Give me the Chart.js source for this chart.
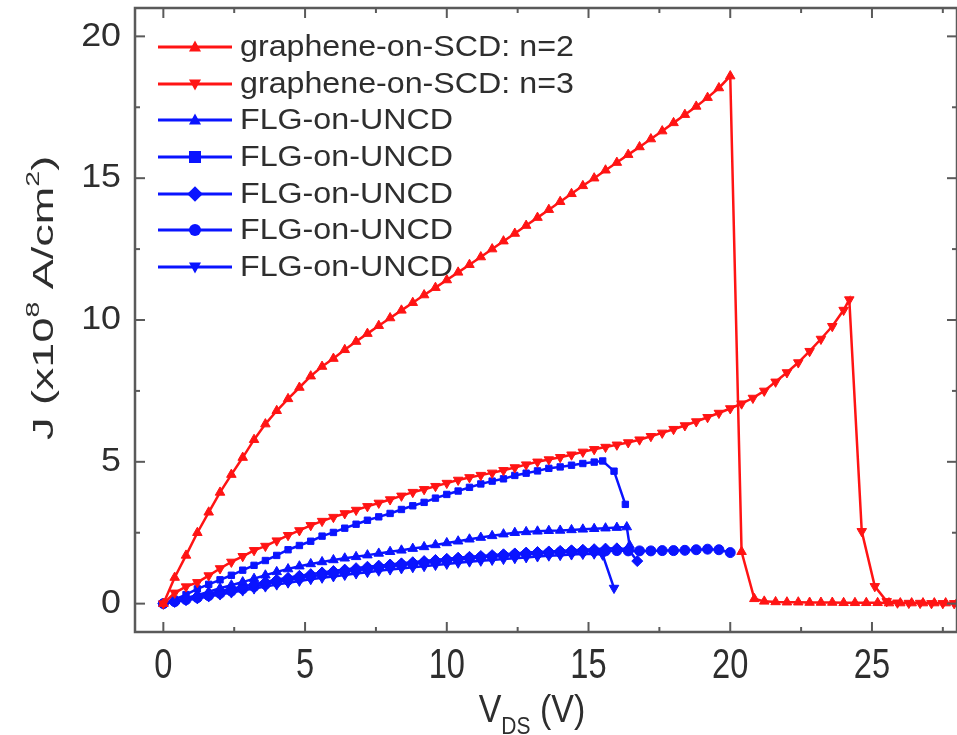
<!DOCTYPE html>
<html>
<head>
<meta charset="utf-8">
<script src="https://cdn.jsdelivr.net/npm/chart.js@4.4.0/dist/chart.umd.min.js"></script>
<style>
  html, body { margin: 0; padding: 0; background: #fff; }
  #wrap { width: 957px; height: 735px; }
</style>
</head>
<body>
<div id="wrap"><canvas id="c" width="957" height="735"></canvas></div>
<script>
// common V_DS grid (V), step of the measurement
const vds = [
  0, 0.4, 0.8, 1.2, 1.6, 2, 2.4, 2.8, 3.2, 3.6,
  4, 4.4, 4.8, 5.2, 5.6, 6, 6.4, 6.8, 7.2, 7.6,
  8, 8.4, 8.8, 9.2, 9.6, 10, 10.4, 10.8, 11.2, 11.6,
  12, 12.4, 12.8, 13.2, 13.6, 14, 14.4, 14.8, 15.2, 15.6,
  16, 16.4, 16.8, 17.2, 17.6, 18, 18.4, 18.8, 19.2, 19.6,
  20, 20.4, 20.8, 21.2, 21.6, 22, 22.4, 22.8, 23.2, 23.6,
  24
];

// J (x10^8 A/cm^2) along the grid, then the breakdown tail
const jSCD2 = [
  0, 0.92, 1.7, 2.5, 3.22, 3.92, 4.55, 5.15, 5.78, 6.33,
  6.8, 7.22, 7.62, 8.02, 8.36, 8.64, 8.95, 9.24, 9.52, 9.8,
  10.07, 10.34, 10.61, 10.88, 11.14, 11.41, 11.68, 11.95, 12.22, 12.5,
  12.78, 13.05, 13.33, 13.61, 13.89, 14.17, 14.45, 14.73, 15.0, 15.28,
  15.55, 15.83, 16.1, 16.38, 16.66, 16.95, 17.24, 17.53, 17.84, 18.18,
  18.6
];
const vSCD2Tail = [20.4, 20.85, 21.2, 21.6, 22, 22.4, 22.8, 23.2, 23.6, 24, 24.4, 24.8, 25.2, 25.6, 26, 26.4, 26.8, 27.2, 27.6, 28];
const jSCD2Tail = [1.83, 0.17, 0.08, 0.06, 0.05, 0.05, 0.04, 0.04, 0.04, 0.03, 0.03, 0.03, 0.03, 0.02, 0.02, 0.02, 0.02, 0.02, 0.02, 0.02];

const jSCD3 = [
  0, 0.38, 0.6, 0.75, 0.99, 1.24, 1.47, 1.67, 1.88, 2.03,
  2.22, 2.41, 2.58, 2.76, 2.91, 3.05, 3.18, 3.3, 3.43, 3.55,
  3.67, 3.8, 3.93, 4.03, 4.14, 4.25, 4.36, 4.45, 4.53, 4.61,
  4.7, 4.8, 4.9, 5.0, 5.08, 5.16, 5.25, 5.35, 5.44, 5.52,
  5.6, 5.68, 5.78, 5.9, 6.02, 6.15, 6.28, 6.42, 6.57, 6.72,
  6.88, 7.05, 7.25, 7.5, 7.82, 8.15, 8.5, 8.9, 9.33, 9.78,
  10.35
];
const vSCD3Tail = [24.2, 24.64, 25.1, 25.52, 25.9, 26.3, 26.7, 27.1, 27.5, 27.9];
const jSCD3Tail = [10.72, 2.55, 0.61, 0.08, 0.03, 0.02, 0.02, 0.01, 0.01, 0.01];

const jFLG1 = [
  0, 0.1, 0.2, 0.3, 0.42, 0.54, 0.65, 0.76, 0.88, 1.0,
  1.12, 1.22, 1.32, 1.4, 1.47, 1.54, 1.6, 1.65, 1.71, 1.77,
  1.83, 1.88, 1.94, 2.0, 2.07, 2.14, 2.2, 2.27, 2.33, 2.39,
  2.45, 2.5, 2.53, 2.55, 2.57, 2.58, 2.6, 2.62, 2.64, 2.66,
  2.68
];
const vFLG1Tail = [16.35, 16.45];
const jFLG1Tail = [2.7, 2.05];

const jFLG2 = [
  0, 0.15, 0.32, 0.52, 0.68, 0.84, 1.0, 1.18, 1.35, 1.52,
  1.7, 1.9, 2.05, 2.2, 2.38, 2.51, 2.66, 2.8, 2.94, 3.06,
  3.18, 3.32, 3.45, 3.57, 3.72, 3.85, 3.97, 4.1, 4.22, 4.32,
  4.4, 4.52, 4.6, 4.68, 4.77, 4.82, 4.88, 4.94, 4.99
];
const vFLG2Tail = [15.5, 15.9, 16.3];
const jFLG2Tail = [5.03, 4.67, 3.5];

const jFLG3 = [
  0, 0.08, 0.17, 0.26, 0.35, 0.44, 0.52, 0.6, 0.68, 0.76,
  0.84, 0.91, 0.98, 1.04, 1.1, 1.15, 1.2, 1.25, 1.3, 1.34,
  1.38, 1.42, 1.46, 1.5, 1.54, 1.58, 1.62, 1.65, 1.68, 1.71,
  1.74, 1.77, 1.8, 1.82, 1.84, 1.86, 1.88, 1.9, 1.92, 1.94,
  1.95, 1.92
];
const vFLG3Tail = [16.72];
const jFLG3Tail = [1.5];

const jFLG4 = [
  0, 0.07, 0.14, 0.21, 0.28, 0.36, 0.44, 0.52, 0.6, 0.68,
  0.76, 0.83, 0.9, 0.96, 1.02, 1.07, 1.12, 1.17, 1.22, 1.27,
  1.32, 1.36, 1.4, 1.44, 1.48, 1.52, 1.56, 1.6, 1.63, 1.66,
  1.69, 1.72, 1.75, 1.77, 1.79, 1.81, 1.83, 1.84, 1.85, 1.86,
  1.87, 1.86, 1.86, 1.86, 1.87, 1.87, 1.88, 1.9, 1.92, 1.9,
  1.8
];

const jFLG5 = [
  0, 0.06, 0.12, 0.18, 0.25, 0.32, 0.39, 0.46, 0.53, 0.6,
  0.67, 0.74, 0.8, 0.86, 0.91, 0.96, 1.01, 1.06, 1.11, 1.16,
  1.2, 1.24, 1.28, 1.32, 1.36, 1.4, 1.44, 1.48, 1.51, 1.54,
  1.57, 1.6, 1.63, 1.66, 1.69, 1.71, 1.73, 1.75, 1.76
];
const vFLG5Tail = [15.5, 15.9];
const jFLG5Tail = [1.72, 0.55];

const seriesNames = [
  "graphene-on-SCD: n=2",
  "graphene-on-SCD: n=3",
  "FLG-on-UNCD",
  "FLG-on-UNCD",
  "FLG-on-UNCD",
  "FLG-on-UNCD",
  "FLG-on-UNCD"
];

const xTicks = [0, 5, 10, 15, 20, 25];
const xMinor = [2.5, 7.5, 12.5, 17.5, 22.5, 27.5];
const yTicks = [0, 5, 10, 15, 20];
const yMinor = [2.5, 7.5, 12.5, 17.5];

const RED = "#ff1414";
const BLUE = "#0a14ff";
const INK = "#2e2e2e";
const FAMILY = "'Liberation Sans', Arial, sans-serif";

function toPoints(ys, tailX, tailY) {
  const pts = ys.map((y, i) => ({ x: vds[i], y: y }));
  (tailX || []).forEach((x, i) => pts.push({ x: x, y: tailY[i] }));
  return pts;
}

const styles = [
  { color: RED, shape: "triangle", rot: 0, r: 5.5 },
  { color: RED, shape: "triangle", rot: 180, r: 5.5 },
  { color: BLUE, shape: "triangle", rot: 0, r: 5.5 },
  { color: BLUE, shape: "rect", rot: 0, r: 4.5 },
  { color: BLUE, shape: "rectRot", rot: 0, r: 5.5 },
  { color: BLUE, shape: "circle", rot: 0, r: 5 },
  { color: BLUE, shape: "triangle", rot: 180, r: 5.5 }
];

const allPoints = [
  toPoints(jSCD2, vSCD2Tail, jSCD2Tail),
  toPoints(jSCD3, vSCD3Tail, jSCD3Tail),
  toPoints(jFLG1, vFLG1Tail, jFLG1Tail),
  toPoints(jFLG2, vFLG2Tail, jFLG2Tail),
  toPoints(jFLG3, vFLG3Tail, jFLG3Tail),
  toPoints(jFLG4),
  toPoints(jFLG5, vFLG5Tail, jFLG5Tail)
];

const datasets = allPoints.map((pts, i) => ({
  label: seriesNames[i],
  data: pts,
  borderColor: styles[i].color,
  backgroundColor: styles[i].color,
  borderWidth: 2.5,
  pointStyle: styles[i].shape,
  pointRotation: styles[i].rot,
  pointRadius: styles[i].r,
  pointBorderWidth: 1,
  tension: 0
}));

function drawMarker(ctx, shape, rot, x, y, r) {
  ctx.save();
  ctx.translate(x, y);
  ctx.rotate(rot * Math.PI / 180);
  ctx.beginPath();
  if (shape === "triangle") {
    ctx.moveTo(0, -r * 1.1);
    ctx.lineTo(r, r * 0.75);
    ctx.lineTo(-r, r * 0.75);
    ctx.closePath();
  } else if (shape === "rect") {
    ctx.rect(-r, -r, 2 * r, 2 * r);
  } else if (shape === "rectRot") {
    ctx.moveTo(0, -r * 1.3);
    ctx.lineTo(r * 1.3, 0);
    ctx.lineTo(0, r * 1.3);
    ctx.lineTo(-r * 1.3, 0);
    ctx.closePath();
  } else {
    ctx.arc(0, 0, r, 0, Math.PI * 2);
  }
  ctx.fill();
  ctx.restore();
}

// text drawn with a stretch, since the figure is not uniformly scaled
function stretchedText(ctx, text, x, y, sx, sy, align) {
  ctx.save();
  ctx.translate(x, y);
  ctx.scale(sx, sy);
  ctx.textAlign = align;
  ctx.fillText(text, 0, 0);
  ctx.restore();
}

const frameAndText = {
  id: "frameAndText",
  afterDraw(chart) {
    const { ctx, chartArea: a, scales: { x, y } } = chart;
    ctx.save();
    ctx.strokeStyle = "#5a5a5a";
    ctx.lineWidth = 2.5;
    ctx.strokeRect(a.left, a.top, a.right - a.left, a.bottom - a.top);

    ctx.lineWidth = 2;
    const seg = (x1, y1, x2, y2) => {
      ctx.beginPath(); ctx.moveTo(x1, y1); ctx.lineTo(x2, y2); ctx.stroke();
    };
    xTicks.forEach(v => {
      const p = x.getPixelForValue(v);
      seg(p, a.bottom, p, a.bottom - 10); seg(p, a.top, p, a.top + 10);
    });
    xMinor.forEach(v => {
      const p = x.getPixelForValue(v);
      seg(p, a.bottom, p, a.bottom - 5); seg(p, a.top, p, a.top + 5);
    });
    yTicks.forEach(v => {
      const p = y.getPixelForValue(v);
      seg(a.left, p, a.left + 10, p); seg(a.right, p, a.right - 10, p);
    });
    yMinor.forEach(v => {
      const p = y.getPixelForValue(v);
      seg(a.left, p, a.left + 5, p); seg(a.right, p, a.right - 5, p);
    });

    // tick labels
    ctx.fillStyle = INK;
    ctx.font = "32px " + FAMILY;
    ctx.textBaseline = "middle";
    yTicks.forEach(v => {
      stretchedText(ctx, String(v), 121, y.getPixelForValue(v), 1.12, 1.05, "right");
    });
    ctx.textBaseline = "top";
    xTicks.forEach(v => {
      stretchedText(ctx, String(v), x.getPixelForValue(v), 644, 1.02, 1.35, "center");
    });

    // legend
    const rowY = [47, 84, 120, 157, 194, 230, 267];
    seriesNames.forEach((name, i) => {
      const st = styles[i];
      ctx.strokeStyle = st.color;
      ctx.fillStyle = st.color;
      ctx.lineWidth = 3;
      seg(158, rowY[i], 232, rowY[i]);
      drawMarker(ctx, st.shape, st.rot, 195, rowY[i], 6);
      ctx.fillStyle = INK;
      ctx.font = "28px " + FAMILY;
      ctx.textBaseline = "middle";
      stretchedText(ctx, name, 240, rowY[i] + 1, 1.15, 1.05, "left");
    });

    // axis titles
    ctx.fillStyle = INK;
    ctx.textBaseline = "alphabetic";
    ctx.textAlign = "left";
    const big = "30px " + FAMILY;
    const small = "19px " + FAMILY;
    const yParts = [["J (x10", big, 0], ["8", small, -14], [" A/cm", big, 0], ["2", small, -14], [")", big, 0]];
    let total = 0;
    yParts.forEach(p => { ctx.font = p[1]; total += ctx.measureText(p[0]).width; });
    const ySx = 1.5;
    ctx.save();
    ctx.translate(53, 298);
    ctx.rotate(-Math.PI / 2);
    ctx.scale(ySx, 1);
    let cx = -total / 2;
    yParts.forEach(p => {
      ctx.font = p[1];
      ctx.fillText(p[0], cx, p[2]);
      cx += ctx.measureText(p[0]).width;
    });
    ctx.restore();

    const xBig = "34px " + FAMILY;
    const xParts = [["V", xBig, 0], ["DS", "21px " + FAMILY, 10], [" (V)", xBig, 0]];
    total = 0;
    xParts.forEach(p => { ctx.font = p[1]; total += ctx.measureText(p[0]).width; });
    ctx.save();
    ctx.translate(532, 722);
    ctx.scale(1, 1.15);
    cx = -total / 2;
    xParts.forEach(p => {
      ctx.font = p[1];
      ctx.fillText(p[0], cx, p[2]);
      cx += ctx.measureText(p[0]).width;
    });
    ctx.restore();
    ctx.restore();
  }
};

new Chart(document.getElementById("c").getContext("2d"), {
  type: "scatter",
  data: { datasets: datasets },
  options: {
    responsive: false,
    animation: false,
    showLine: true,
    layout: { autoPadding: false, padding: { top: 8, right: -6, left: 0, bottom: 0 } },
    plugins: { legend: { display: false }, tooltip: { enabled: false } },
    scales: {
      x: {
        type: "linear",
        min: -1,
        max: 28,
        grid: { display: false },
        border: { display: false },
        ticks: { display: false },
        afterFit: (s) => { s.height = 103; s.paddingLeft = 0; s.paddingRight = 0; }
      },
      y: {
        type: "linear",
        min: -1,
        max: 21,
        grid: { display: false },
        border: { display: false },
        ticks: { display: false },
        afterFit: (s) => { s.width = 135; s.paddingTop = 0; s.paddingBottom = 0; }
      }
    }
  },
  plugins: [frameAndText]
});
</script>
</body>
</html>
